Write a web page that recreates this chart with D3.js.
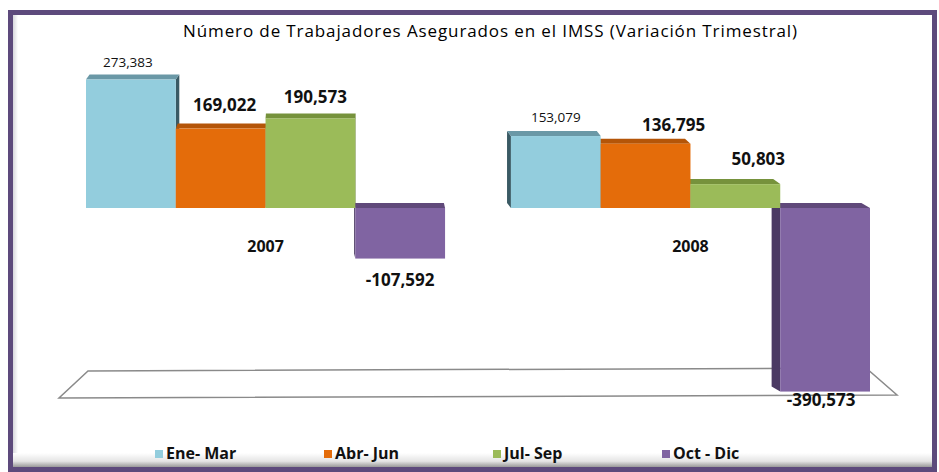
<!DOCTYPE html>
<html>
<head>
<meta charset="utf-8">
<script src="https://cdn.jsdelivr.net/npm/d3@7"></script>
<style>
  body { margin: 0; background: #fff; }
  svg { display: block; font-family: "Open Sans", sans-serif; }
</style>
</head>
<body>
<svg id="chart" width="939" height="472"></svg>
<script>
// data
var years = ["2007", "2008"];
var quarters = ["Ene- Mar", "Abr- Jun", "Jul- Sep", "Oct - Dic"];
var values2007 = [273383, 169022, 190573, -107592];
var values2008 = [153079, 136795, 50803, -390573];
var title = "Número de Trabajadores Asegurados en el IMSS (Variación Trimestral)";

// look
var frontColors = ["#93cddd", "#e46c0a", "#9bbb59", "#8064a2"];
var topColors   = ["#6a98a6", "#b45508", "#76923c", "#60497a"];
var sideColors  = ["#3a5a64", "#7a3a05", "#4f6228", "#4b3a63"];
// label nudges [dx, dy] per year, per quarter
var labelNudge = [
  [[-3, -13], [4, -18], [5, -15], [0, 27]],
  [[0, -14], [28, -13], [23, -19], [-4, 14]]
];

var svg = d3.select("#chart");

var data = [];
years.forEach(function (yr, yi) {
  var vals = yi === 0 ? values2007 : values2008;
  vals.forEach(function (v, qi) {
    data.push({ year: yr, yi: yi, quarter: quarters[qi], qi: qi, value: v });
  });
});

// frame
svg.append("rect")
  .attr("x", 0).attr("y", 0).attr("width", 939).attr("height", 472)
  .attr("fill", "#fff");

var defs = svg.append("defs");
var shade = defs.append("linearGradient").attr("id", "bottomShade")
  .attr("x1", 0).attr("y1", 0).attr("x2", 0).attr("y2", 1);
shade.append("stop").attr("offset", "0%").attr("stop-color", "#ffffff");
shade.append("stop").attr("offset", "55%").attr("stop-color", "#e4e4e4");
shade.append("stop").attr("offset", "100%").attr("stop-color", "#8c8c8c");
var lshade = defs.append("linearGradient").attr("id", "leftShade")
  .attr("x1", 0).attr("y1", 0).attr("x2", 1).attr("y2", 0);
lshade.append("stop").attr("offset", "0%").attr("stop-color", "#cfcfd6");
lshade.append("stop").attr("offset", "100%").attr("stop-color", "#ffffff");

svg.append("rect")
  .attr("x", 12).attr("y", 14).attr("width", 6).attr("height", 452)
  .attr("fill", "url(#leftShade)");
svg.append("rect")
  .attr("x", 12).attr("y", 453).attr("width", 922).attr("height", 15)
  .attr("fill", "url(#bottomShade)");
svg.append("rect")
  .attr("x", 10.5).attr("y", 12.5).attr("width", 924).attr("height", 457)
  .attr("fill", "none")
  .attr("stroke", "#5d4a7c")
  .attr("stroke-width", 5);

// title
svg.append("text")
  .attr("x", 490).attr("y", 37)
  .attr("text-anchor", "middle")
  .attr("textLength", 614)
  .attr("lengthAdjust", "spacing")
  .style("font-size", "17px")
  .style("fill", "#000")
  .text(title);

// scales
var x0 = d3.scaleBand().domain(years).range([86, 870]).paddingInner(0.155);
var x1 = d3.scaleBand().domain(quarters).range([0, x0.bandwidth()]);
var y = d3.scaleLinear().domain([-400000, 300000]).range([396, 67]);

// fake perspective: back face shifts toward a vanishing point
var vpX = 333, depthK = 0.0175, depthY = -5;

// floor
var floorY = y(-400000);
var fx0 = x0.range()[0], fx1 = x0.range()[1];
svg.append("path")
  .attr("d", "M" + (fx0 - 27) + "," + (floorY + 2) +
             "L" + (fx1 + 27) + "," + (floorY - 1) +
             "L" + (fx1 - 4) + "," + (floorY - 28) +
             "L" + (fx0 + 2) + "," + (floorY - 25) + "Z")
  .attr("fill", "#fff")
  .attr("stroke", "#8a8a8a")
  .attr("stroke-width", 1.5);

data.forEach(function (d) {
  d.xa = x0(d.year) + x1(d.quarter);
  d.xb = d.xa + x1.bandwidth();
  d.yt = Math.min(y(d.value), y(0));
  d.yb = Math.max(y(d.value), y(0));
  d.dx = depthK * (vpX - (d.xa + d.xb) / 2);
});

// back faces first (top and side), fronts after
var backs = svg.append("g");
data.forEach(function (d) {
  var sx = d.dx > 0 ? d.xb : d.xa;
  backs.append("path")
    .attr("d", "M" + sx + "," + d.yt + "L" + (sx + d.dx) + "," + (d.yt + depthY) +
               "L" + (sx + d.dx) + "," + (d.yb + depthY) + "L" + sx + "," + d.yb + "Z")
    .attr("fill", sideColors[d.qi]);
  backs.append("path")
    .attr("d", "M" + d.xa + "," + d.yt + "L" + d.xb + "," + d.yt +
               "L" + (d.xb + d.dx) + "," + (d.yt + depthY) +
               "L" + (d.xa + d.dx) + "," + (d.yt + depthY) + "Z")
    .attr("fill", topColors[d.qi]);
});

svg.append("g").selectAll("rect")
  .data(data)
  .enter()
  .append("rect")
    .attr("x", function (d) { return d.xa; })
    .attr("y", function (d) { return d.yt; })
    .attr("width", function (d) { return d.xb - d.xa; })
    .attr("height", function (d) { return d.yb - d.yt; })
    .attr("fill", function (d) { return frontColors[d.qi]; });

// value labels, plain hyphen for negatives like the original
var fmt = d3.formatLocale({ decimal: ".", thousands: ",", grouping: [3], currency: ["$", ""], minus: "-" }).format(",");
svg.append("g").selectAll("text")
  .data(data)
  .enter()
  .append("text")
    .attr("x", function (d) { return (d.xa + d.xb) / 2 + labelNudge[d.yi][d.qi][0]; })
    .attr("y", function (d) {
      var n = labelNudge[d.yi][d.qi][1];
      return (d.value >= 0 ? d.yt : d.yb) + n;
    })
    .attr("text-anchor", "middle")
    .style("font-size", function (d) { return d.qi === 0 ? "13.5px" : "17px"; })
    .style("font-weight", function (d) { return d.qi === 0 ? "normal" : "bold"; })
    .style("fill", "#111")
    .text(function (d) { return fmt(d.value); });

// year labels
svg.append("g").selectAll("text")
  .data(years)
  .enter()
  .append("text")
    .attr("x", function (d) { return x0(d) + x0.bandwidth() / 2; })
    .attr("y", y(0) + 44)
    .attr("text-anchor", "middle")
    .style("font-size", "16px")
    .style("font-weight", "bold")
    .style("fill", "#111")
    .text(function (d) { return d; });

// legend
var legend = svg.append("g").selectAll("g")
  .data(quarters)
  .enter()
  .append("g")
    .attr("transform", function (d, i) { return "translate(" + (155 + i * 169) + ",450)"; });
legend.append("rect")
  .attr("width", 8).attr("height", 8)
  .attr("fill", function (d, i) { return frontColors[i]; });
legend.append("text")
  .attr("x", 11).attr("y", 9)
  .style("font-size", "16px")
  .style("font-weight", "bold")
  .style("fill", "#111")
  .text(function (d) { return d; });
</script>
</body>
</html>
